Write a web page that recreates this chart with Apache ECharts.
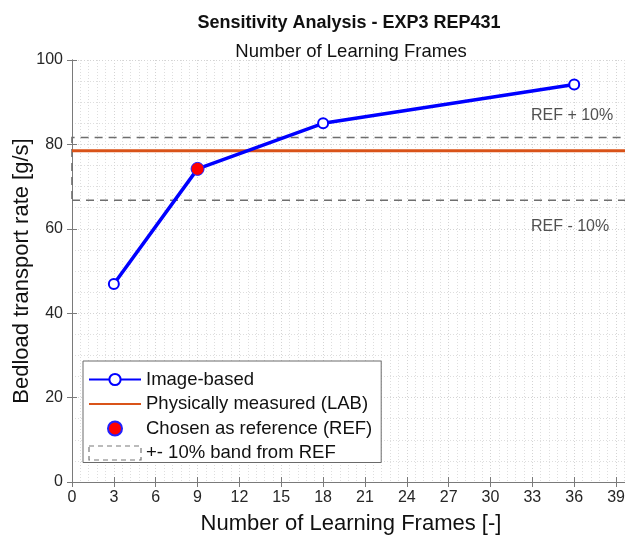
<!DOCTYPE html>
<html>
<head>
<meta charset="utf-8">
<title>Sensitivity Analysis - EXP3 REP431</title>
<style>
  * { margin: 0; padding: 0; }
  body { background: #fff; }
  #main { width: 625px; height: 539px; }
</style>
</head>
<body>
<div id="main"></div>
<script src="https://cdn.jsdelivr.net/npm/echarts@6/dist/echarts.min.js"></script>
<script>
// frames used for learning vs. estimated bedload
var frames = [3, 9, 18, 36];
var imageBased = [46.9, 74.2, 85.0, 94.2];
var refFrames = 9;
var refValue = 74.2;
var labValue = 78.5;
var bandPct = 0.10;
var xTicks = [0, 3, 6, 9, 12, 15, 18, 21, 24, 27, 30, 33, 36, 39];
var xMax = 40;

var upper = refValue * (1 + bandPct);
var lower = refValue * (1 - bandPct);
var font = 'Liberation Sans, Arial, Helvetica, sans-serif';

var chart = echarts.init(document.getElementById('main'));

function axisCommon(extra) {
  return Object.assign({
    type: 'value',
    axisLine: { show: true, lineStyle: { color: '#7a7a7a', width: 1 } },
    axisTick: { show: true, inside: true, length: 5, lineStyle: { color: '#7a7a7a' } },
    axisLabel: { color: '#262626', fontSize: 16, fontFamily: font },
    splitLine: { show: true, lineStyle: { color: '#d4d4d4', type: [1, 2], width: 1 } },
    minorSplitLine: { show: true, lineStyle: { color: '#dedede', type: [1, 2], width: 1 } }
  }, extra);
}

var option = {
  animation: false,
  textStyle: { fontFamily: font },
  title: [
    {
      text: 'Sensitivity Analysis - EXP3 REP431',
      left: 344, top: 9, textAlign: 'center',
      textStyle: { fontSize: 18, fontWeight: 'bold', color: '#111', fontFamily: font }
    },
    {
      text: 'Number of Learning Frames',
      left: 346, top: 37, textAlign: 'center',
      textStyle: { fontSize: 18.5, fontWeight: 'normal', color: '#111', fontFamily: font }
    }
  ],
  grid: { left: 72, top: 60, right: -5, bottom: 57, outerBoundsMode: 'none', containLabel: false },
  legend: {
    orient: 'vertical',
    left: 83, top: 361,
    backgroundColor: '#fff',
    borderColor: '#6a6a6a',
    borderWidth: 1,
    padding: [9, 9, 0, 5],
    itemWidth: 52,
    itemHeight: 14,
    itemGap: 5.5,
    textStyle: { fontSize: 18.5, color: '#111', fontFamily: font },
    data: [
      { name: 'Image-based' },
      { name: 'Physically measured (LAB)', itemStyle: { opacity: 0 } },
      { name: 'Chosen as reference (REF)' },
      {
        name: '+- 10% band from REF', icon: 'rect',
        itemStyle: { color: 'rgba(0,0,0,0)', borderColor: '#555', borderType: [5, 4], borderWidth: 1.2 }
      }
    ]
  },
  xAxis: [
    axisCommon({
      min: 0, max: xMax, interval: 3,
      minorTick: { show: false, splitNumber: 5 },
      axisLabel: { color: '#262626', fontSize: 16, fontFamily: font, margin: 8, showMaxLabel: false },
      name: 'Number of Learning Frames [-]',
      nameLocation: 'middle', nameGap: 31,
      nameTextStyle: { fontSize: 22, color: '#111', fontFamily: font }
    }),
    axisCommon({
      position: 'top', min: 0, max: xMax, interval: 3,
      axisLabel: { show: false }, splitLine: { show: false }, minorSplitLine: { show: false }
    })
  ],
  yAxis: [
    axisCommon({
      min: 0, max: 100, interval: 20,
      minorTick: { show: false, splitNumber: 4 },
      axisLabel: { color: '#262626', fontSize: 16, fontFamily: font, margin: 9 },
      name: 'Bedload transport rate [g/s]',
      nameLocation: 'middle', nameGap: 39, nameMoveOverlap: false,
      nameTextStyle: { fontSize: 22, color: '#111', fontFamily: font }
    }),
    axisCommon({
      position: 'right', min: 0, max: 100, interval: 20,
      axisLabel: { show: false }, splitLine: { show: false }, minorSplitLine: { show: false }
    })
  ],
  series: [
    {
      name: '+- 10% band from REF',
      type: 'scatter',
      data: [],
      silent: true,
      itemStyle: { color: 'rgba(0,0,0,0)', borderColor: '#555', borderType: 'dashed' },
      markArea: {
        silent: true,
        itemStyle: { color: 'rgba(0,0,0,0)', borderColor: '#6e6e6e', borderWidth: 1.6, borderType: [8, 6] },
        data: [[{ coord: [0, lower] }, { coord: [xMax, upper] }]]
      },
      z: 1
    },
    {
      name: 'Physically measured (LAB)',
      type: 'line',
      data: [[0, labValue], [xMax, labValue]],
      symbol: 'none',
      silent: true,
      lineStyle: { color: '#d95319', width: 3 },
      itemStyle: { color: '#d95319' },
      z: 2
    },
    {
      name: 'Image-based',
      type: 'line',
      data: frames.map(function (f, i) { return [f, imageBased[i]]; }),
      symbol: 'emptyCircle',
      symbolSize: 10,
      silent: true,
      lineStyle: { color: '#0000ff', width: 3.5 },
      itemStyle: { color: '#0000ff', borderColor: '#0000ff', borderWidth: 2.5 },
      z: 3
    },
    {
      name: 'Chosen as reference (REF)',
      type: 'scatter',
      data: [[refFrames, refValue]],
      symbolSize: 13,
      silent: true,
      itemStyle: { color: '#ff0000', borderColor: '#2020ff', borderWidth: 1, opacity: 1 },
      z: 4
    },
    {
      name: 'notes',
      type: 'scatter',
      data: [
        { value: [32.9, upper + 5.2], label: { formatter: 'REF + 10%' } },
        { value: [32.9, lower - 6.2], label: { formatter: 'REF - 10%' } }
      ],
      symbolSize: 0,
      silent: true,
      label: { show: true, position: 'right', distance: 0, color: '#262626', fontSize: 16, fontFamily: font },
      z: 5
    }
  ]
};

chart.setOption(option);
</script>
</body>
</html>
